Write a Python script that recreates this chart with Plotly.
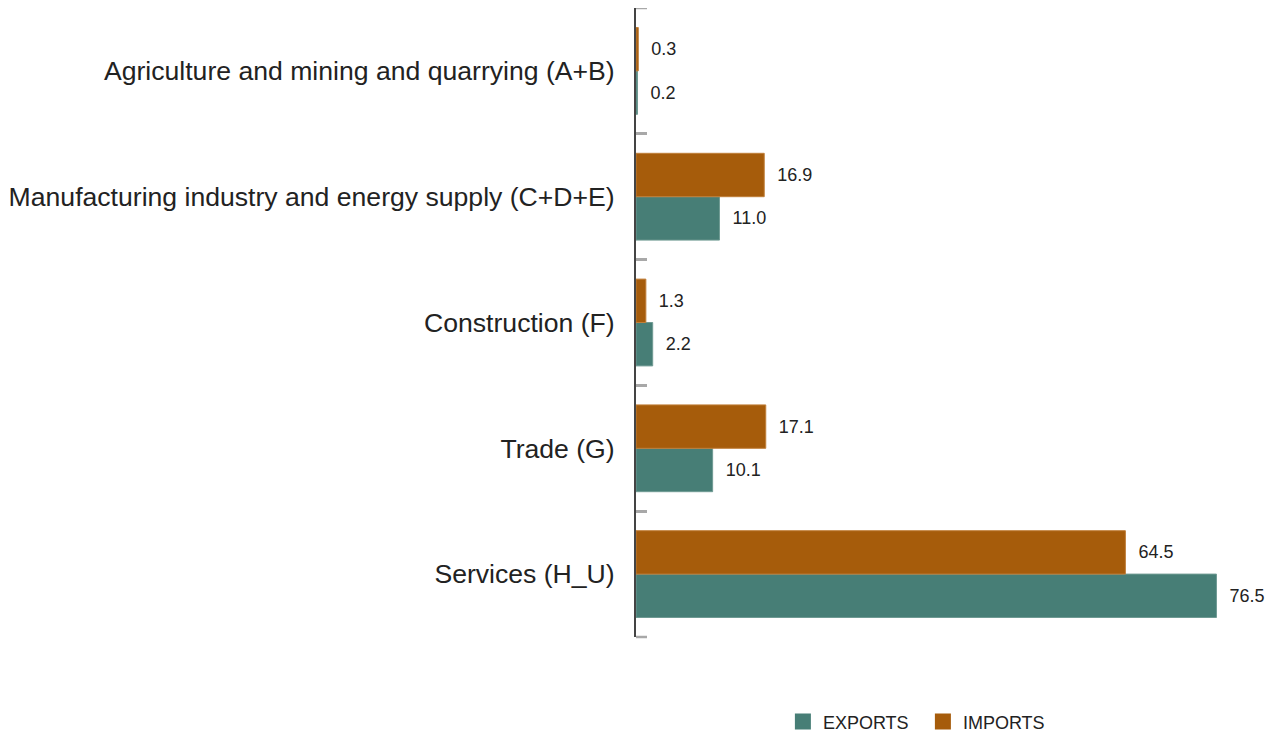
import plotly.graph_objects as go

categories = [
    "Services (H_U)",
    "Trade (G)",
    "Construction (F)",
    "Manufacturing industry and energy supply (C+D+E)",
    "Agriculture and mining and quarrying (A+B)",
]
exports = [76.5, 10.1, 2.2, 11.0, 0.2]
imports = [64.5, 17.1, 1.3, 16.9, 0.3]

EXP_COLOR = "#477e76"
IMP_COLOR = "#a65c0b"
FONT = "Liberation Sans"
TICK_COLOR = "#a8a8a8"

fig = go.Figure()
for name, vals, col, edge in [("EXPORTS", exports, EXP_COLOR, "#6f9a93"),
                              ("IMPORTS", imports, IMP_COLOR, "#c07f3a")]:
    fig.add_trace(go.Bar(
        y=categories, x=vals, orientation="h", name=name, legendgroup=name,
        showlegend=False,
        marker=dict(color=col, line=dict(color=edge, width=1)),
        texttemplate="\u00a0\u00a0%{x:.1f}", textposition="outside",
        textfont=dict(family=FONT, size=18, color="#222"),
        cliponaxis=False,
    ))
for name, col in [("EXPORTS", EXP_COLOR), ("IMPORTS", IMP_COLOR)]:
    fig.add_trace(go.Scatter(
        x=[None], y=[None], mode="markers", name=name, legendgroup=name,
        marker=dict(symbol="square", size=25, color=col),
    ))

# end ticks at the top and bottom of the category axis
for yy in (0, 1):
    fig.add_shape(type="line", xref="paper", yref="paper",
                  x0=0, x1=11 / 607, y0=yy, y1=yy,
                  line=dict(color=TICK_COLOR, width=2.5))

fig.update_layout(
    width=1274, height=736,
    margin=dict(l=628, r=39, t=0, b=107),
    barmode="group", bargap=0.31, bargroupgap=0,
    plot_bgcolor="white", paper_bgcolor="white",
    font=dict(family=FONT, color="#222"),
    showlegend=True,
    legend=dict(orientation="h", x=0.242, xanchor="left",
                yref="container", y=0.03, yanchor="middle",
                font=dict(family=FONT, size=18, color="#222"), traceorder="normal",
                itemwidth=30, entrywidth=95, entrywidthmode="pixels"),
    xaxis=dict(range=[0, 80], visible=False, showgrid=False, zeroline=False,
               automargin=False),
    yaxis=dict(
        categoryorder="array", categoryarray=categories,
        showline=True, linecolor="#444", linewidth=2,
        ticks="inside", tickson="boundaries", ticklen=11, tickwidth=2.5, tickcolor=TICK_COLOR,
        tickfont=dict(family=FONT, size=26.6, color="#222"), ticklabelstandoff=14,
        showgrid=False, zeroline=False, automargin=False,
    ),
)

fig.write_html("out.html")
